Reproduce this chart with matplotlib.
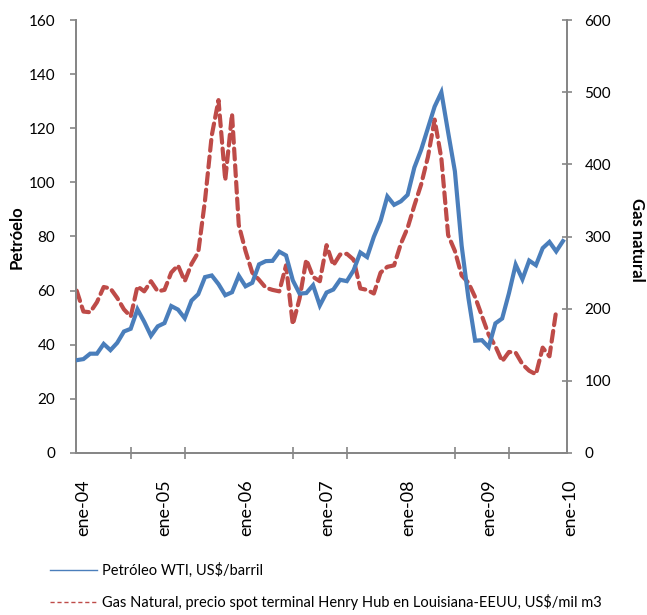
import matplotlib
matplotlib.use("Agg")
import matplotlib.pyplot as plt
from matplotlib.lines import Line2D
from matplotlib.transforms import ScaledTranslation
import numpy as np

plt.rcParams['font.family'] = ['Lato', 'DejaVu Sans']

# precios mensuales ene-04 .. ene-10
petroleo = [34.3, 34.7, 36.7, 36.7, 40.3, 38.0, 40.7, 44.9, 45.9, 53.1, 48.5, 43.3,
            46.8, 48.0, 54.3, 53.0, 49.8, 56.3, 58.7, 65.0, 65.6, 62.4, 58.3, 59.4,
            65.5, 61.6, 62.9, 69.7, 70.9, 71.0, 74.4, 73.0, 63.8, 58.9, 59.1, 62.0,
            54.5, 59.3, 60.4, 64.0, 63.5, 67.5, 74.1, 72.4, 79.9, 85.8, 94.8, 91.7,
            93.0, 95.4, 105.5, 112.0, 120.0, 128.0, 133.3, 118.5, 104.1, 76.6, 57.3, 41.5,
            41.7, 39.1, 47.9, 49.7, 59.0, 69.6, 64.2, 71.1, 69.4, 75.7, 78.0, 74.5,
            78.3]
# gas natural ene-04 .. dic-09
gas = [225, 196, 195, 209, 230, 228, 215, 199, 189, 231, 224, 238,
       224, 226, 250, 260, 238, 262, 278, 350, 440, 489, 378, 470,
       316, 280, 250, 240, 229, 226, 224, 260, 178, 214, 268, 244,
       238, 288, 260, 275, 276, 268, 228, 226, 221, 250, 258, 260,
       290, 312, 343, 372, 410, 462, 408, 302, 280, 246, 236, 216,
       190, 164, 148, 127, 140, 139, 123, 114, 109, 146, 134, 197]
etiquetas = ['ene-04', 'ene-05', 'ene-06', 'ene-07', 'ene-08', 'ene-09', 'ene-10']

azul = '#4A7EBB'
rojo = '#BE4B48'
gris = '#868686'

fig = plt.figure(figsize=(6.47, 6.15), dpi=100)
ax = fig.add_axes([76/647, 1-453/615, (567-76)/647, (453-20)/615])
ax2 = ax.twinx()

meses = np.arange(len(petroleo))
ax.plot(meses, petroleo, color=azul, lw=3, solid_joinstyle='miter', zorder=3)
ax2.plot(meses[:len(gas)], gas, color=rojo, lw=3, linestyle=(0, (2.6, 1.4)),
         dash_capstyle='round')

ax.set_zorder(2)
ax.patch.set_visible(False)

ax.set_xlim(-0.1, 72.6)
ax.set_ylim(0, 160)
ax2.set_ylim(0, 600)
ax.set_yticks(range(0, 161, 20))
ax2.set_yticks(range(0, 601, 100))

ax.set_xticks(range(0, 73, 12))
ax.set_xticklabels(etiquetas, rotation=90, fontsize=13)
ax.set_xticks(range(0, 73, 8), minor=True)
ax.tick_params(axis='x', which='major', length=0, pad=19)
ax.tick_params(axis='x', which='minor', length=8, direction='inout', color=gris, width=1.2)
for lab in ax.get_xticklabels():
    lab.set_transform(lab.get_transform() + ScaledTranslation(7/100, 0, fig.dpi_scale_trans))

ax.tick_params(axis='y', length=4, direction='out', color=gris, width=1.2, labelsize=11, pad=11)
ax2.tick_params(axis='y', length=7, direction='inout', color=gris, width=1.2, labelsize=11, pad=9)

for a in (ax, ax2):
    a.spines['top'].set_visible(False)
    for s in ('left', 'right', 'bottom'):
        a.spines[s].set_color(gris)
        a.spines[s].set_linewidth(1.3)

fig.text(17/647, 1-237/615, 'Petróelo', rotation=90, fontsize=12, fontweight='bold',
         ha='center', va='center')
fig.text(637/647, 1-240/615, 'Gas natural', rotation=270, fontsize=12, fontweight='bold',
         ha='center', va='center')

handles = [Line2D([], [], color=azul, lw=1),
           Line2D([], [], color=rojo, lw=1, linestyle=(0, (3, 2)))]
labels = ['Petróleo WTI, US$/barril',
          'Gas Natural, precio spot terminal Henry Hub en Louisiana-EEUU, US$/mil m3']
fig.legend(handles, labels, loc='upper left', bbox_to_anchor=(50/647, 1-563/615),
           frameon=False, fontsize=10.5, borderpad=0, borderaxespad=0,
           handlelength=3.2, handletextpad=0.4, labelspacing=1.1)

fig.savefig('out.png', dpi=100)
